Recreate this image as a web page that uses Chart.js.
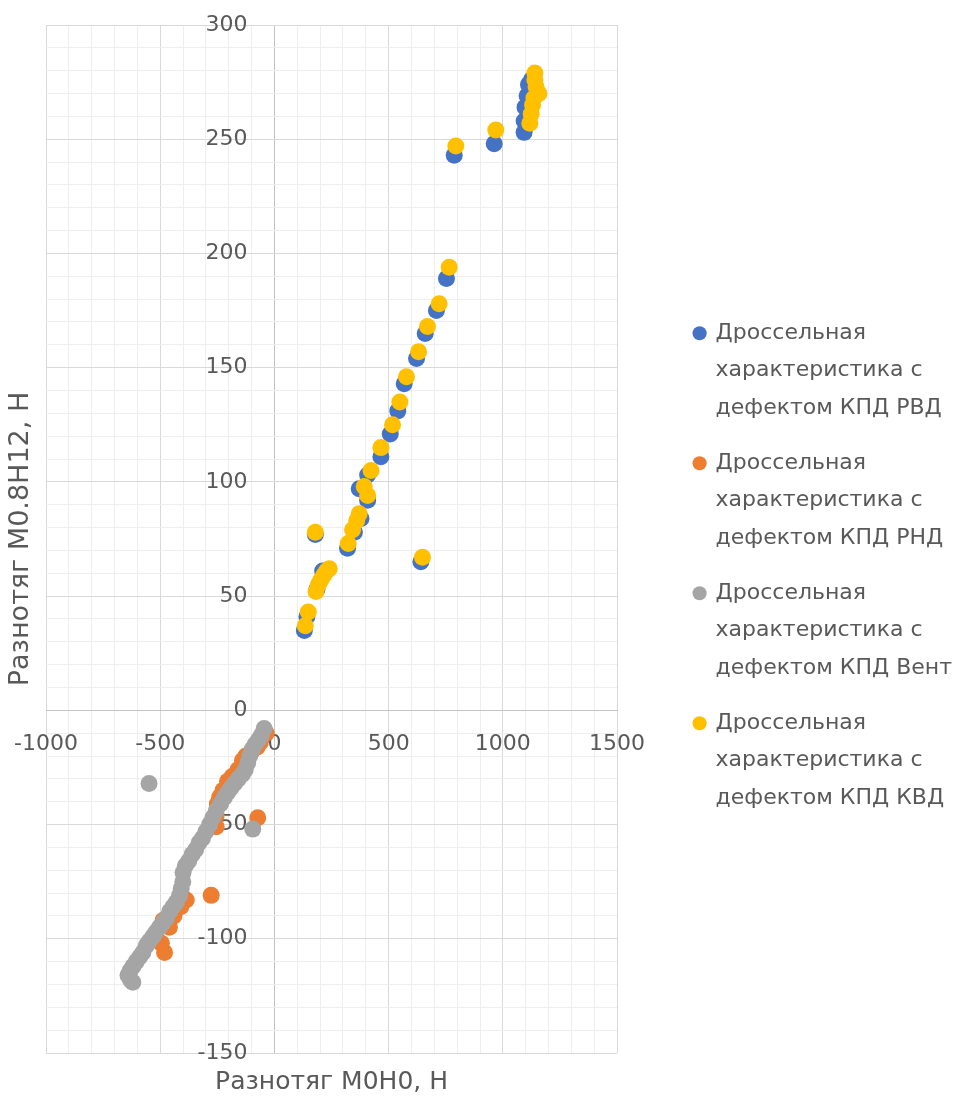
<!DOCTYPE html>
<html>
<head>
<meta charset="utf-8">
<script src="https://cdn.jsdelivr.net/npm/chart.js@4/dist/chart.umd.min.js"></script>
<style>
  html, body { margin: 0; padding: 0; background: #ffffff; }
  #wrap { width: 958px; height: 1097px; }
</style>
</head>
<body>
<div id="wrap"><canvas id="chart" width="958" height="1097"></canvas></div>
<script>
// Axis titles
const xTitle = 'Разнотяг М0Н0, Н';
const yTitle = 'Разнотяг М0.8Н12, Н';

// Legend entries (one array of lines per series)
const legendRvd = ['Дроссельная', 'характеристика с', 'дефектом КПД РВД'];
const legendRnd = ['Дроссельная', 'характеристика с', 'дефектом КПД РНД'];
const legendVent = ['Дроссельная', 'характеристика с', 'дефектом КПД Вент'];
const legendKvd = ['Дроссельная', 'характеристика с', 'дефектом КПД КВД'];

// Series colours
const colorRvd = '#4472C4';
const colorRnd = '#ED7D31';
const colorVent = '#A5A5A5';
const colorKvd = '#FFC000';

// [М0Н0, М0.8Н12] pairs, N
const pointsRvd = [
  [131, 35], [142, 41], [186, 53], [211, 61], [179, 77], [641, 65],
  [320, 71], [350, 78], [379, 84], [408, 92], [371, 97], [408, 103],
  [466, 111], [507, 121], [540, 131], [568, 143], [622, 154], [660, 165],
  [709, 175], [753, 189], [787, 243], [962, 248], [1093, 253], [1093, 258],
  [1097, 264], [1106, 269], [1112, 274], [1125, 276]
];
const pointsRnd = [
  [-36, -10], [-50, -11], [-62, -14], [-75, -16], [-100, -18], [-125, -20],
  [-140, -22], [-160, -26], [-185, -29], [-205, -31], [-225, -35], [-240, -38],
  [-250, -41], [-255, -46], [-255, -51], [-73, -47], [-277, -81], [-386, -83],
  [-410, -86], [-440, -90], [-470, -92], [-488, -92], [-460, -95], [-495, -102],
  [-481, -106]
];
const pointsVent = [
  [-45, -8], [-58, -11], [-70, -13], [-85, -15], [-97, -17], [-108, -20],
  [-117, -23], [-128, -26], [-140, -28], [-158, -30], [-175, -32], [-190, -34],
  [-205, -36], [-219, -38], [-236, -41], [-255, -44], [-270, -47], [-284, -50],
  [-300, -53], [-315, -56], [-330, -58], [-345, -61], [-360, -63], [-375, -66],
  [-390, -68], [-400, -71], [-401, -75], [-408, -78], [-415, -81], [-430, -84],
  [-444, -86], [-458, -88], [-473, -91], [-488, -93], [-503, -95], [-518, -97],
  [-532, -99], [-547, -101], [-561, -103], [-576, -106], [-590, -108], [-605, -110],
  [-619, -112], [-632, -114], [-641, -116], [-630, -118], [-620, -119],
  [-549, -32], [-95, -52]
];
const pointsKvd = [
  [135, 37], [148, 43], [182, 52], [192, 55], [203, 57], [215, 59],
  [228, 61], [240, 62], [179, 78], [648, 67], [323, 73], [342, 79],
  [360, 83], [371, 86], [393, 98], [408, 94], [423, 105], [466, 115],
  [517, 125], [549, 135], [578, 146], [631, 157], [670, 168], [721, 178],
  [765, 194], [794, 247], [969, 254], [1118, 257], [1124, 261], [1130, 265],
  [1136, 268], [1158, 270], [1145, 273], [1140, 276], [1140, 279]
];

// Axis ranges and steps
const xRange = [-1000, 1500];
const yRange = [-150, 300];
const xMinorStep = 100, xMajorStep = 500;
const yMinorStep = 10, yMajorStep = 50;
// x value at which the value labels of the vertical axis are anchored (just left of zero)
const yLabelAnchor = -118;

const textColor = '#595959';
const fontFamily = '"DejaVu Sans", sans-serif';
const axisLine = '#c4c4c4';
const majorGrid = '#d9d9d9';
const minorGrid = '#eeeeee';

const toXY = arr => arr.map(([x, y]) => ({ x, y }));
const isMajor = (v, step) => Math.abs(Math.round(v) % step) === 0;
const gridColor = step => c => {
  const v = Math.round(c.tick.value);
  if (v === 0) return axisLine;
  return isMajor(v, step) ? majorGrid : minorGrid;
};

function series(lines, pts, color, order) {
  return {
    label: lines.join(' '),
    legendLines: lines,
    data: toXY(pts),
    backgroundColor: color,
    borderColor: color,
    borderWidth: 0,
    pointRadius: 8.5,
    pointHoverRadius: 8.5,
    pointStyle: 'circle',
    xAxisID: 'x',
    yAxisID: 'y',
    order: order
  };
}

// later series are painted over earlier ones
const datasets = [
  series(legendRvd, pointsRvd, colorRvd, 4),
  series(legendRnd, pointsRnd, colorRnd, 3),
  series(legendVent, pointsVent, colorVent, 2),
  series(legendKvd, pointsKvd, colorKvd, 1)
];

const hiddenAxis = {
  type: 'linear',
  display: true,
  grid: { display: false, drawTicks: false },
  border: { display: false },
  ticks: { display: false }
};

new Chart(document.getElementById('chart'), {
  type: 'scatter',
  data: { datasets },
  options: {
    responsive: false,
    animation: false,
    layout: { padding: { top: 25, left: 0, right: -4, bottom: 0 } },
    scales: {
      x: {
        type: 'linear',
        position: { y: 0 },
        min: xRange[0], max: xRange[1],
        grid: { drawTicks: false, color: gridColor(xMajorStep), lineWidth: 1 },
        border: { display: true, color: axisLine, width: 1 },
        ticks: {
          stepSize: xMinorStep,
          autoSkip: false,
          maxRotation: 0,
          padding: 0,
          color: textColor,
          font: { family: fontFamily, size: 22, lineHeight: '68px' },
          callback: v => isMajor(v, xMajorStep) ? String(Math.round(v)) : ''
        }
      },
      y: {
        type: 'linear',
        position: { x: yLabelAnchor },
        min: yRange[0], max: yRange[1],
        grid: { drawTicks: false, color: gridColor(yMajorStep), lineWidth: 1 },
        border: { display: false },
        ticks: {
          stepSize: yMinorStep,
          autoSkip: false,
          color: textColor,
          font: { family: fontFamily, size: 22 },
          callback: v => isMajor(v, yMajorStep) ? String(Math.round(v)) : ''
        }
      },
      xTitleAxis: Object.assign({}, hiddenAxis, {
        axis: 'x',
        position: 'bottom',
        title: {
          display: true, text: xTitle, color: textColor,
          font: { family: fontFamily, size: 25 },
          padding: { top: 0, bottom: 0 }
        },
        afterFit: s => { s.height = 44; }
      }),
      yTitleAxis: Object.assign({}, hiddenAxis, {
        axis: 'y',
        position: 'left',
        title: {
          display: true, text: yTitle, color: textColor,
          font: { family: fontFamily, size: 27 },
          padding: { top: 5, bottom: 0 }
        },
        afterFit: s => { s.width = 46; }
      }),
      ySpacer: Object.assign({}, hiddenAxis, {
        axis: 'y',
        position: 'right',
        afterFit: s => { s.width = 60; }
      })
    },
    plugins: {
      tooltip: { enabled: false },
      legend: {
        position: 'right',
        align: 'center',
        maxWidth: 400,
        title: { display: true, text: '', padding: 0, font: { size: 10, lineHeight: '25px' } },
        labels: {
          usePointStyle: true,
          boxWidth: 10,
          boxHeight: 10,
          padding: 17.5,
          color: textColor,
          font: { family: fontFamily, size: 22, lineHeight: '37.5px' },
          sort: (a, b) => a.datasetIndex - b.datasetIndex,
          generateLabels: chart => Chart.defaults.plugins.legend.labels.generateLabels(chart)
            .map(item => Object.assign(item, { text: chart.data.datasets[item.datasetIndex].legendLines }))
        }
      }
    }
  }
});
</script>
</body>
</html>
